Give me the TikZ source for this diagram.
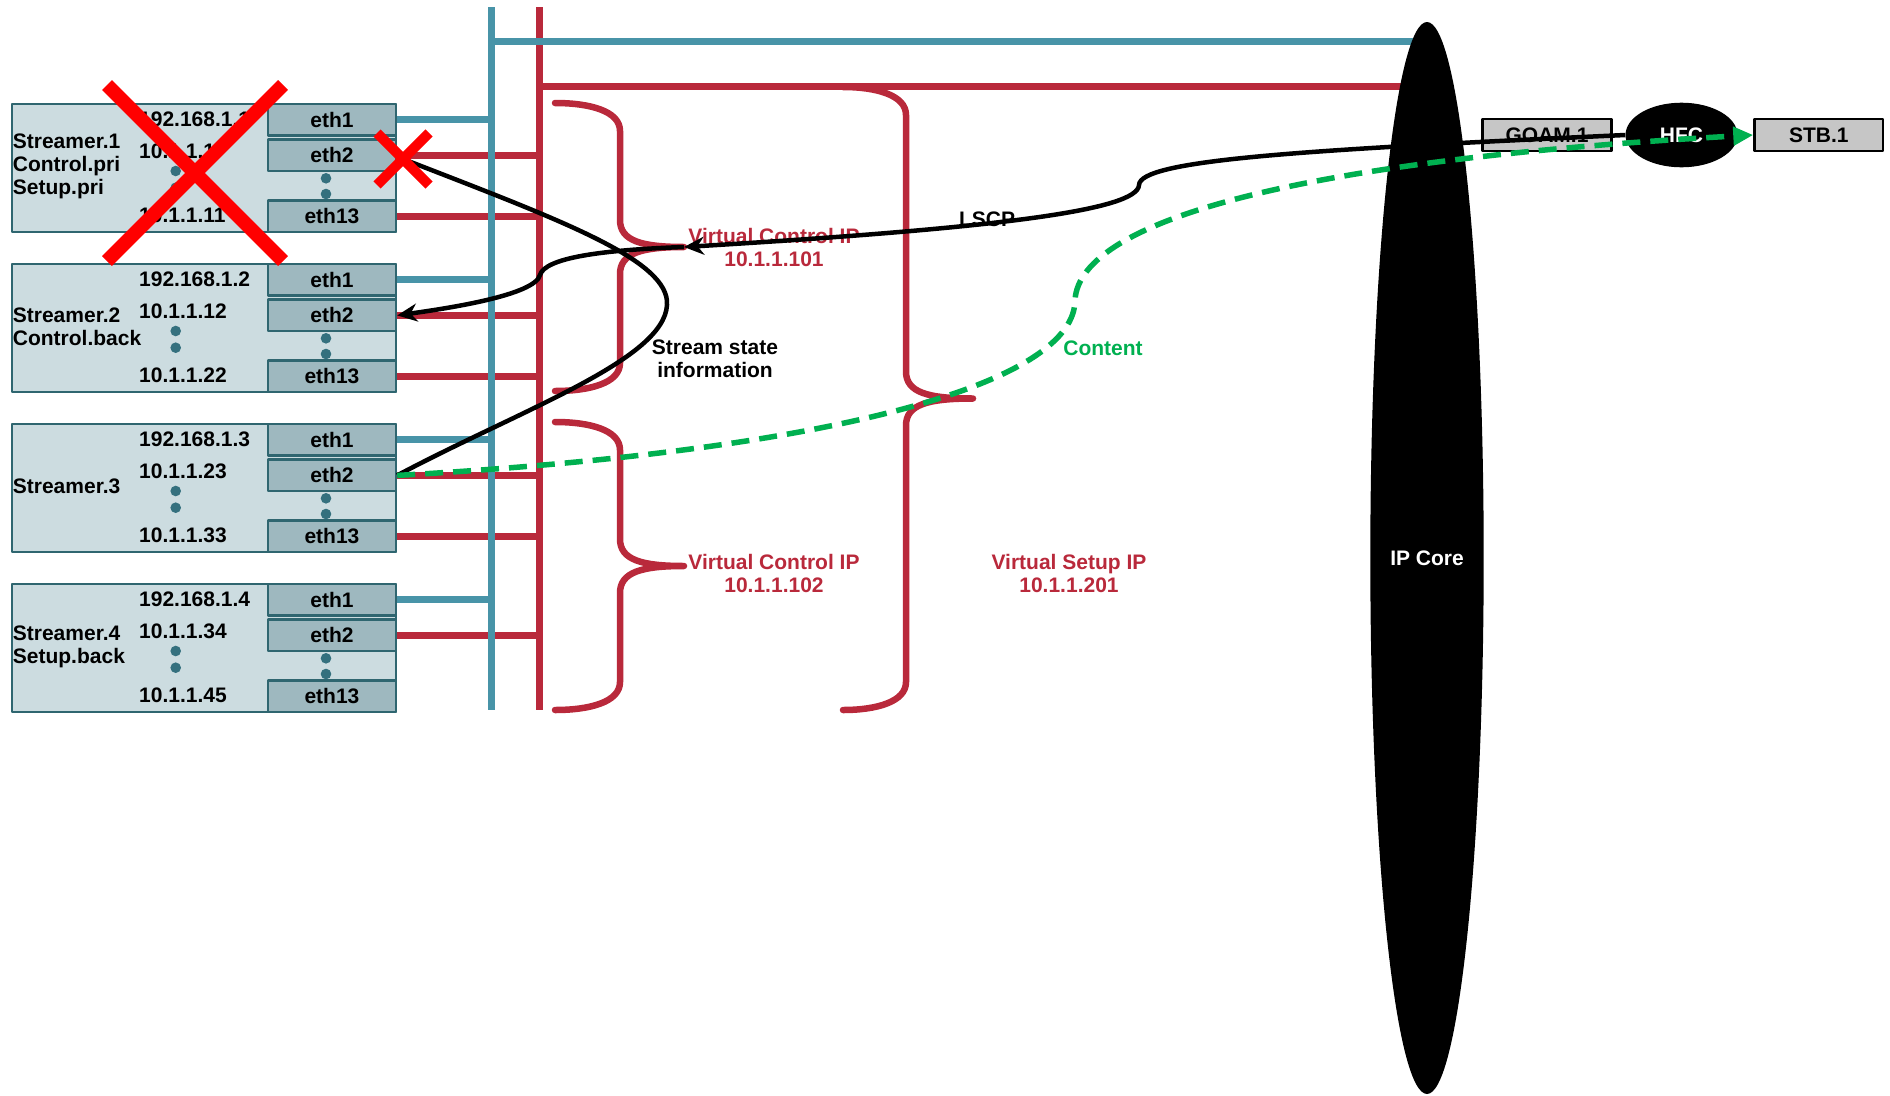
\documentclass[tikz,border=0pt]{standalone}
\usepackage{fontspec}
\setmainfont{Liberation Sans}
\usetikzlibrary{arrows.meta,shapes.geometric}

\definecolor{strfill}{RGB}{204,220,224}
\definecolor{ethfill}{RGB}{158,184,191}
\definecolor{strline}{RGB}{47,102,112}
\definecolor{dotc}{RGB}{52,112,126}
\definecolor{busblue}{RGB}{72,148,168}
\definecolor{busred}{RGB}{185,41,59}
\definecolor{contentgreen}{RGB}{0,176,80}
\definecolor{boxgrey}{RGB}{198,198,198}

\tikzset{
  strbox/.style={draw=strline, fill=strfill, line width=2.5pt, inner sep=0pt,
    minimum width=384pt, minimum height=128pt},
  ethbox/.style={draw=strline, fill=ethfill, line width=2.5pt, inner sep=0pt,
    minimum width=128pt, minimum height=31.5pt},
  iptext/.style={anchor=west, inner sep=0pt, align=left},
  bluebus/.style={busblue, line width=7pt},
  redbus/.style={busred, line width=7pt},
  greybox/.style={draw=black, fill=boxgrey, line width=2.5pt, inner sep=0pt,
    minimum width=128.6pt, minimum height=31.7pt},
  flow/.style={line width=4.5pt, -{Stealth[length=20pt,width=18pt]}},
  content/.style={contentgreen, line width=5.5pt, dash pattern=on 18pt off 10pt,
    -{Triangle[length=20pt,width=18pt]}},
  xmark/.style={red, line cap=butt},
}

% curly brace: end x, stem x, tip x, top y, bottom y
\newcommand{\ipbrace}[5]{%
  \draw[busred, line width=6.5pt, line cap=round]
    (#1,#4) .. controls ({#2-30},#4) and (#2,{#4+8}) .. (#2,{#4+28})
    -- (#2,{(#4+#5)/2-27}) .. controls (#2,{(#4+#5)/2-6}) and ({#2+22},{(#4+#5)/2}) .. (#3,{(#4+#5)/2})
    .. controls ({#2+22},{(#4+#5)/2}) and (#2,{(#4+#5)/2+6}) .. (#2,{(#4+#5)/2+27})
    -- (#2,{#5-28}) .. controls (#2,{#5-8}) and ({#2-30},#5) .. (#1,#5);}

\begin{document}
\begin{tikzpicture}[x=1pt, y=-1pt, font=\fontsize{21}{23}\selectfont\bfseries, line join=round]
  \useasboundingbox (0,0) rectangle (1890,1095);
  \path (491,7) coordinate (btop) (491,710) coordinate (bbot)
        (539,7) coordinate (rtop) (539,710) coordinate (rbot)
        (491,41) coordinate (bjoin) (539,86) coordinate (rjoin)
        (684,247) coordinate (vcip1) (403,159) coordinate (fail)
        (1427,558) coordinate (corec);

  % streamers
  \foreach \i/\ty/\ipa/\ipb/\ipc/\slabel in {
      1/102.7/192.168.1.1/10.1.1.1/10.1.1.11/{Streamer.1\\Control.pri\\Setup.pri},
      2/262.7/192.168.1.2/10.1.1.12/10.1.1.22/{Streamer.2\\Control.back},
      3/422.7/192.168.1.3/10.1.1.23/10.1.1.33/{Streamer.3},
      4/582.7/192.168.1.4/10.1.1.34/10.1.1.45/{Streamer.4\\Setup.back}}{
    \node[strbox, anchor=north west] (s\i) at (10.7,\ty) {};
    \node[ethbox, anchor=north east] (eth\i-1) at (s\i.north east) {eth1};
    \node[ethbox, anchor=north east] (eth\i-2) at ([yshift=-1.7pt]eth\i-1.south east) {eth2};
    \node[ethbox, anchor=south east] (eth\i-13) at (s\i.south east) {eth13};
    \node[iptext] (ipa\i) at (139,{\ty+16.6}) {\ipa};
    \node[iptext] (ipb\i) at (139,{\ty+48.3}) {\ipb};
    \node[iptext] (ipc\i) at (139,{\ty+112.3}) {\ipc};
    \node[iptext] (name\i) at (12.7,{\ty+64}) {\slabel};
    \fill[dotc] (175.7,{\ty+68.3}) circle (5.3pt) (175.7,{\ty+85}) circle (5.3pt)
                (326,{\ty+75.6}) circle (5.3pt) (326,{\ty+91.3}) circle (5.3pt);
  }

  % port links and buses
  \foreach \i in {1,...,4} {
    \draw[bluebus] (eth\i-1.east) -- (eth\i-1.east -| bbot);
    \draw[redbus] (eth\i-2.east) -- (eth\i-2.east -| rbot);
  }
  \foreach \i in {1,2,3} \draw[redbus] (eth\i-13.east) -- (eth\i-13.east -| rbot);
  \draw[bluebus] (btop) -- (bbot);
  \draw[redbus] (rtop) -- (rbot);
  \draw[bluebus] (bjoin) -- (bjoin -| corec);
  \draw[redbus] (rjoin) -- (rjoin -| corec);

  % braces
  \ipbrace{555}{620}{684}{103}{391}
  \ipbrace{555}{620}{684}{422}{710}
  \ipbrace{843}{906}{973}{87}{710}

  \node[ellipse, fill=black, text=white, minimum width=112.6pt, minimum height=1072pt] (core) at (corec) {IP Core};
  \node[greybox] (goam) at (1547,135) {GOAM.1};
  \node[ellipse, fill=black, text=white, minimum width=112pt, minimum height=64.6pt] (hfc) at (1681.5,135) {HFC};
  \node[greybox] (stb) at (1818.8,135) {STB.1};

  % labels
  \node[text=busred, align=center] (vc1) at (774,247) {Virtual Control IP\\10.1.1.101};
  \node[text=busred, align=center] (vc2) at (774,573) {Virtual Control IP\\10.1.1.102};
  \node[text=busred, align=center] (vs) at (1069,573) {Virtual Setup IP\\10.1.1.201};
  \node[align=center] (state) at (715,359) {Stream state\\information};
  \node (lscp) at (987,219) {LSCP};
  \node[text=contentgreen] (cont) at (1103,348) {Content};

  % flows
  \draw[flow] (hfc.west) .. controls (1300,150) and (1140,160) .. (1139,185)
    .. controls (1138,210) and (1000,228) .. (vcip1);
  \draw[flow] (vcip1) .. controls (600,250) and (545,258) .. (540,275)
    .. controls (535,295) and (450,308) .. (eth2-2.east);
  \draw[line width=4.5pt] (fail) .. controls (560,220) and (670,260) .. (667,305)
    .. controls (664,360) and (520,410) .. (eth3-2.east);
  \draw[content] (eth3-2.east) .. controls (850,450) and (1075,380) .. (1075,300)
    .. controls (1080,220) and (1300,160) .. (stb.west);

  % failures
  \draw[xmark, line width=14pt] (107,85) -- (283,261) (107,261) -- (283,85);
  \draw[xmark, line width=10pt] (377,133) -- (429,185) (377,185) -- (429,133);
\end{tikzpicture}
\end{document}
